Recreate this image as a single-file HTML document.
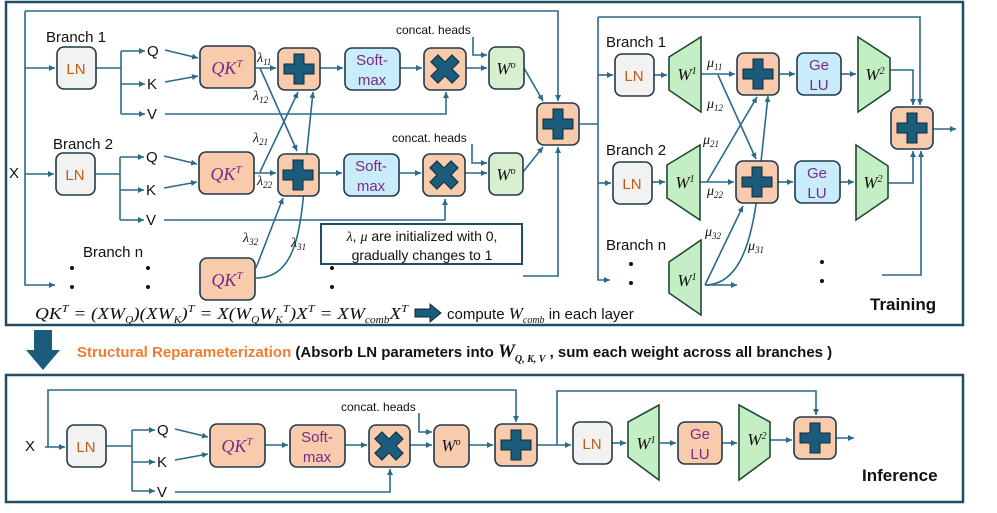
<!DOCTYPE html>
<html><head><meta charset="utf-8"><style>
body{margin:0;background:#fff}
svg{display:block}
text{font-family:"Liberation Sans",sans-serif}
.s,.s text,.s tspan,text.s,tspan.s{font-family:"Liberation Serif",serif;font-style:italic}
</style></head><body>
<svg width="997" height="513" viewBox="0 0 997 513" xmlns="http://www.w3.org/2000/svg">
<defs>
<marker id="a" markerWidth="8" markerHeight="8" refX="6" refY="3" orient="auto" markerUnits="userSpaceOnUse"><path d="M0,0 L6,3 L0,6 z" fill="#2a6a8c"/></marker>
<g id="plus"><path d="M-5,-15 h10 v10 h10 v10 h-10 v10 h-10 v-10 h-10 v-10 h10 z" fill="#1b5c7c" stroke="#0f2a38" stroke-width="1"/></g>
</defs>
<g fill="none" stroke="#1f4e64" stroke-width="2.5">
<rect x="6" y="2" width="957" height="323"/>
<rect x="6" y="375" width="957" height="127"/>
</g>
<g fill="none" stroke="#2a6a8c" stroke-width="1.6">
<path d="M25,11 H558 V101" marker-end="url(#a)"/>
<path d="M25,11 V285 H55" marker-end="url(#a)"/>
<path d="M25,68 H55" marker-end="url(#a)"/>
<path d="M25,174 H54" marker-end="url(#a)"/>
<path d="M96,68 H121"/><path d="M121,51 V114"/>
<path d="M121,51 H145" marker-end="url(#a)"/><path d="M121,84 H145" marker-end="url(#a)"/><path d="M121,114 H145" marker-end="url(#a)"/>
<path d="M165,50 L198,58" marker-end="url(#a)"/><path d="M165,82 L198,76" marker-end="url(#a)"/>
<path d="M165,114 H446 V92" marker-end="url(#a)"/>
<path d="M255,68 H276" marker-end="url(#a)"/>
<path d="M320,68 H343" marker-end="url(#a)"/>
<path d="M400,68 H422" marker-end="url(#a)"/>
<path d="M466,68 H487" marker-end="url(#a)"/>
<path d="M473,37 V55 H487" marker-end="url(#a)"/>
<path d="M524,68 L543,101" marker-end="url(#a)"/>
<path d="M95,174 H120"/><path d="M120,157 V220"/>
<path d="M120,157 H144" marker-end="url(#a)"/><path d="M120,190 H144" marker-end="url(#a)"/><path d="M120,220 H144" marker-end="url(#a)"/>
<path d="M164,156 L197,164" marker-end="url(#a)"/><path d="M164,188 L197,182" marker-end="url(#a)"/>
<path d="M164,220 H445 V199" marker-end="url(#a)"/>
<path d="M254,173 H276" marker-end="url(#a)"/>
<path d="M319,173 H342" marker-end="url(#a)"/>
<path d="M399,173 H421" marker-end="url(#a)"/>
<path d="M465,173 H487" marker-end="url(#a)"/>
<path d="M472,144 V163 H487" marker-end="url(#a)"/>
<path d="M523,172 L543,147" marker-end="url(#a)"/>
<path d="M260,68 L297,151" marker-end="url(#a)"/>
<path d="M260,172 L298,92" marker-end="url(#a)"/>
<path d="M256,278 C300,278 302,220 307,150 L313,92" marker-end="url(#a)"/>
<path d="M256,268 L283,198" marker-end="url(#a)"/>
<path d="M523,276 H558 V147" marker-end="url(#a)"/>
<path d="M579,124 H598"/><path d="M598,17 V280 H610" marker-end="url(#a)"/>
<path d="M598,17 H920 V105" marker-end="url(#a)"/>
<path d="M598,75 H613" marker-end="url(#a)"/>
<path d="M598,183 H611" marker-end="url(#a)"/>
<path d="M654,75 H667" marker-end="url(#a)"/>
<path d="M652,182 H665" marker-end="url(#a)"/>
<path d="M701,74 H735" marker-end="url(#a)"/>
<path d="M700,182 H734" marker-end="url(#a)"/>
<path d="M779,74 H795" marker-end="url(#a)"/>
<path d="M778,182 H793" marker-end="url(#a)"/>
<path d="M841,74 H856" marker-end="url(#a)"/>
<path d="M840,182 H854" marker-end="url(#a)"/>
<path d="M890,70 H913 V105" marker-end="url(#a)"/>
<path d="M888,183 H913 V151" marker-end="url(#a)"/>
<path d="M882,275 H921 V151" marker-end="url(#a)"/>
<path d="M933,129 H956" marker-end="url(#a)"/>
<path d="M718,75 L756,159" marker-end="url(#a)"/>
<path d="M707,182 L757,97" marker-end="url(#a)"/>
<path d="M705,285 H737" marker-end="url(#a)"/>
<path d="M705,285 L743,206" marker-end="url(#a)"/>
<path d="M705,285 C740,285 752,240 758,190 L768,96" marker-end="url(#a)"/>
<path d="M45,447 H65" marker-end="url(#a)"/>
<path d="M48,447 V390 H516 V422" marker-end="url(#a)"/>
<path d="M106,446 H132"/><path d="M132,430 V491"/>
<path d="M132,430 H155" marker-end="url(#a)"/><path d="M132,462 H155" marker-end="url(#a)"/><path d="M132,491 H155" marker-end="url(#a)"/>
<path d="M175,429 L208,437" marker-end="url(#a)"/><path d="M175,460 L208,454" marker-end="url(#a)"/>
<path d="M175,492 H390 V469" marker-end="url(#a)"/>
<path d="M265,445 H288" marker-end="url(#a)"/>
<path d="M345,445 H367" marker-end="url(#a)"/>
<path d="M410,445 H432" marker-end="url(#a)"/>
<path d="M419,413 V432 H432" marker-end="url(#a)"/>
<path d="M469,445 H493" marker-end="url(#a)"/>
<path d="M537,445 H571" marker-end="url(#a)"/>
<path d="M557,445 V391 H816 V415" marker-end="url(#a)"/>
<path d="M612,443 H626" marker-end="url(#a)"/>
<path d="M660,443 H676" marker-end="url(#a)"/>
<path d="M722,443 H737" marker-end="url(#a)"/>
<path d="M770,440 H792" marker-end="url(#a)"/>
<path d="M836,438 H854" marker-end="url(#a)"/>
</g>
<g stroke="#22394a" stroke-width="1.6">
<rect x="57" y="47" width="39" height="42" rx="7" fill="#f2f2f2"/>
<rect x="56" y="153" width="39" height="42" rx="7" fill="#f2f2f2"/>
<rect x="200" y="46" width="55" height="42" rx="7" fill="#f8cbad"/>
<rect x="199" y="152" width="55" height="42" rx="7" fill="#f8cbad"/>
<rect x="200" y="258" width="55" height="42" rx="7" fill="#f8cbad"/>
<rect x="278" y="48" width="42" height="42" rx="7" fill="#f8cbad"/>
<rect x="278" y="154" width="41" height="42" rx="7" fill="#f8cbad"/>
<rect x="345" y="48" width="55" height="42" rx="7" fill="#c9ecfb"/>
<rect x="344" y="154" width="55" height="42" rx="7" fill="#c9ecfb"/>
<rect x="424" y="48" width="42" height="42" rx="7" fill="#f8cbad"/>
<rect x="423" y="154" width="42" height="42" rx="7" fill="#f8cbad"/>
<rect x="489" y="47" width="35" height="42" rx="7" fill="#d8f0cf"/>
<rect x="489" y="153" width="34" height="42" rx="7" fill="#d8f0cf"/>
<rect x="537" y="103" width="42" height="42" rx="7" fill="#f8cbad"/>
<rect x="615" y="54" width="39" height="42" rx="7" fill="#f2f2f2"/>
<rect x="613" y="162" width="39" height="42" rx="7" fill="#f2f2f2"/>
<rect x="737" y="53" width="42" height="42" rx="7" fill="#f8cbad"/>
<rect x="736" y="161" width="42" height="42" rx="7" fill="#f8cbad"/>
<rect x="797" y="53" width="44" height="42" rx="7" fill="#c9ecfb"/>
<rect x="795" y="161" width="45" height="42" rx="7" fill="#c9ecfb"/>
<rect x="891" y="107" width="42" height="42" rx="7" fill="#f8cbad"/>
<rect x="67" y="425" width="39" height="42" rx="7" fill="#f2f2f2"/>
<rect x="210" y="424" width="55" height="43" rx="7" fill="#f8cbad"/>
<rect x="290" y="425" width="55" height="42" rx="7" fill="#f8cbad"/>
<rect x="369" y="425" width="41" height="42" rx="7" fill="#f8cbad"/>
<rect x="434" y="425" width="35" height="42" rx="7" fill="#f8cbad"/>
<rect x="495" y="424" width="42" height="42" rx="7" fill="#f8cbad"/>
<rect x="573" y="422" width="39" height="42" rx="7" fill="#f2f2f2"/>
<rect x="678" y="422" width="44" height="42" rx="7" fill="#f8cbad"/>
<rect x="794" y="417" width="42" height="42" rx="7" fill="#f8cbad"/>
</g>
<g fill="#c4efc4" stroke="#1e4a35" stroke-width="1.6">
<path d="M669,57 L701,37 V112 L669,90 z"/>
<path d="M667,165 L700,145 V220 L667,198 z"/>
<path d="M669,262 L701,240 V315 L669,293 z"/>
<path d="M858,37 L890,58 V90 L858,112 z"/>
<path d="M856,145 L888,166 V198 L856,220 z"/>
<path d="M628,422 L659,405 V480 L628,457 z"/>
<path d="M739,405 L770,422 V457 L739,480 z"/>
</g>
<use href="#plus" x="299" y="69"/><use href="#plus" x="298" y="175"/><use href="#plus" x="558" y="124"/>
<use href="#plus" x="758" y="74"/><use href="#plus" x="757" y="182"/><use href="#plus" x="912" y="128"/>
<use href="#plus" x="516" y="445"/><use href="#plus" x="815" y="438"/>
<use href="#plus" transform="translate(445,69) rotate(45)"/><use href="#plus" transform="translate(444,175) rotate(45)"/><use href="#plus" transform="translate(389,446) rotate(45)"/>
<rect x="321" y="224" width="201" height="40" fill="#fff" stroke="#1f4e64" stroke-width="2"/>
<path d="M415,309 H430 V304 L441,313 L430,322 V317 H415 z" fill="#1b5c7c" stroke="#0f2a38"/>
<path d="M34,330 H52 V350 H60 L43,370 L26,350 H34 z" fill="#1b5c7c"/>
<g font-size="15" fill="#111">
<text x="46" y="42">Branch 1</text><text x="53" y="149">Branch 2</text><text x="83" y="257">Branch n</text>
<text x="606" y="47">Branch 1</text><text x="606" y="155">Branch 2</text><text x="606" y="250">Branch n</text>
<text x="9" y="178">X</text><text x="25" y="451">X</text>
<text x="147" y="56">Q</text><text x="147" y="89">K</text><text x="147" y="119">V</text>
<text x="146" y="162">Q</text><text x="146" y="195">K</text><text x="146" y="225">V</text>
<text x="157" y="435">Q</text><text x="157" y="467">K</text><text x="157" y="497">V</text>
</g>
<g font-size="12" fill="#111">
<text x="396" y="34">concat. heads</text><text x="392" y="142">concat. heads</text><text x="341" y="411">concat. heads</text>
</g>
<g font-size="15" fill="#c55a11" text-anchor="middle">
<text x="76" y="74">LN</text><text x="75" y="180">LN</text><text x="634" y="81">LN</text><text x="632" y="189">LN</text><text x="86" y="452">LN</text><text x="592" y="449">LN</text>
</g>
<g font-size="15" fill="#7a2a8a" text-anchor="middle">
<text x="372" y="65">Soft-</text><text x="372" y="85">max</text>
<text x="371" y="171">Soft-</text><text x="371" y="191">max</text>
<text x="317" y="442">Soft-</text><text x="317" y="462">max</text>
<text x="819" y="70">Ge</text><text x="819" y="90">LU</text>
<text x="817" y="178">Ge</text><text x="817" y="198">LU</text>
<text x="700" y="439">Ge</text><text x="700" y="459">LU</text>
</g>
<g class="s" font-size="18" fill="#7a2a8a" text-anchor="middle">
<text x="227" y="74">QK<tspan font-size="11" dy="-7">T</tspan></text>
<text x="226" y="180">QK<tspan font-size="11" dy="-7">T</tspan></text>
<text x="227" y="286">QK<tspan font-size="11" dy="-7">T</tspan></text>
<text x="237" y="452">QK<tspan font-size="11" dy="-7">T</tspan></text>
</g>
<g class="s" font-size="17" fill="#111" text-anchor="middle">
<text x="506" y="74">W<tspan font-size="10" dy="-6">o</tspan></text>
<text x="506" y="180">W<tspan font-size="10" dy="-6">o</tspan></text>
<text x="451" y="451">W<tspan font-size="10" dy="-6">o</tspan></text>
<text x="687" y="80">W<tspan font-size="10" dy="-6">1</tspan></text>
<text x="685" y="188">W<tspan font-size="10" dy="-6">1</tspan></text>
<text x="687" y="286">W<tspan font-size="10" dy="-6">1</tspan></text>
<text x="875" y="80">W<tspan font-size="10" dy="-6">2</tspan></text>
<text x="873" y="188">W<tspan font-size="10" dy="-6">2</tspan></text>
<text x="646" y="449">W<tspan font-size="10" dy="-6">1</tspan></text>
<text x="757" y="445">W<tspan font-size="10" dy="-6">2</tspan></text>
</g>
<g class="s" font-size="14" fill="#111">
<text x="257" y="62">λ<tspan font-size="9" font-style="normal" dy="3">11</tspan></text>
<text x="253" y="100">λ<tspan font-size="9" font-style="normal" dy="3">12</tspan></text>
<text x="253" y="142">λ<tspan font-size="9" font-style="normal" dy="3">21</tspan></text>
<text x="257" y="185">λ<tspan font-size="9" font-style="normal" dy="3">22</tspan></text>
<text x="243" y="242">λ<tspan font-size="9" font-style="normal" dy="3">32</tspan></text>
<text x="291" y="247">λ<tspan font-size="9" font-style="normal" dy="3">31</tspan></text>
<text x="707" y="67">μ<tspan font-size="9" font-style="normal" dy="3">11</tspan></text>
<text x="707" y="108">μ<tspan font-size="9" font-style="normal" dy="3">12</tspan></text>
<text x="703" y="144">μ<tspan font-size="9" font-style="normal" dy="3">21</tspan></text>
<text x="707" y="195">μ<tspan font-size="9" font-style="normal" dy="3">22</tspan></text>
<text x="705" y="236">μ<tspan font-size="9" font-style="normal" dy="3">32</tspan></text>
<text x="748" y="250">μ<tspan font-size="9" font-style="normal" dy="3">31</tspan></text>
</g>
<g font-size="14" fill="#111" text-anchor="middle">
<text x="422" y="241"><tspan class="s">λ</tspan>, <tspan class="s">μ</tspan> are initialized with 0,</text>
<text x="422" y="260">gradually changes to 1</text>
</g>
<g fill="#111">
<circle cx="72" cy="268" r="2"/><circle cx="72" cy="287" r="2"/>
<circle cx="148" cy="268" r="2"/><circle cx="148" cy="287" r="2"/>
<circle cx="332" cy="268" r="2"/><circle cx="332" cy="287" r="2"/>
<circle cx="631" cy="264" r="2"/><circle cx="631" cy="283" r="2"/>
<circle cx="822" cy="262" r="2"/><circle cx="822" cy="281" r="2"/>
</g>
<text class="s" x="35" y="319" font-size="17" fill="#111" textLength="373" lengthAdjust="spacingAndGlyphs">QK<tspan font-size="11" dy="-7">T</tspan><tspan dy="7"> = (XW</tspan><tspan font-size="10" dy="4">Q</tspan><tspan dy="-4">)(XW</tspan><tspan font-size="10" dy="4">K</tspan><tspan dy="-4">)</tspan><tspan font-size="11" dy="-7">T</tspan><tspan dy="7"> = X(W</tspan><tspan font-size="10" dy="4">Q</tspan><tspan dy="-4">W</tspan><tspan font-size="10" dy="4">K</tspan><tspan font-size="11" dy="-11">T</tspan><tspan dy="7">)X</tspan><tspan font-size="11" dy="-7">T</tspan><tspan dy="7"> = XW</tspan><tspan font-size="10" dy="4">comb</tspan><tspan dy="-4">X</tspan><tspan font-size="11" dy="-7">T</tspan></text>
<text x="447" y="319" font-size="15" fill="#111">compute <tspan class="s" font-size="17">W</tspan><tspan class="s" font-size="10" dy="4">comb</tspan><tspan dy="-4"> in each layer</tspan></text>
<text x="870" y="310" font-size="17" font-weight="bold" fill="#111">Training</text>
<text x="862" y="481" font-size="17" font-weight="bold" fill="#111">Inference</text>
<text x="77" y="357" font-size="15" font-weight="bold"><tspan fill="#ed7d31">Structural Reparameterization</tspan><tspan fill="#111"> (Absorb LN parameters into </tspan><tspan class="s" font-size="19" fill="#111">W</tspan><tspan class="s" font-size="10" dy="5" fill="#111">Q, K, V</tspan><tspan dy="-5" fill="#111"> , sum each weight across all branches )</tspan></text>
</svg>
</body></html>
